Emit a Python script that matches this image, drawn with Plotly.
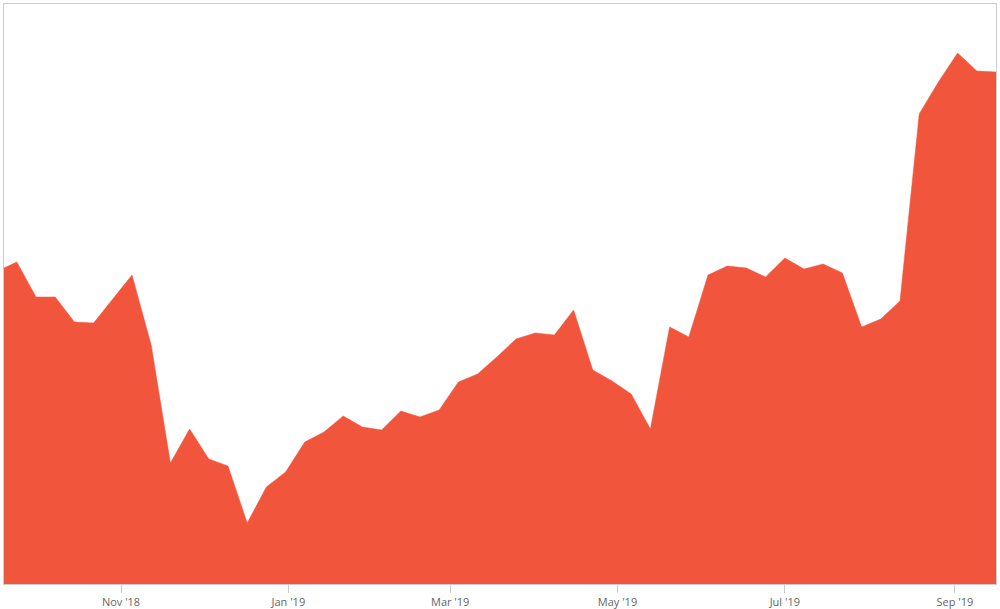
import plotly.graph_objects as go
import pandas as pd

dates = pd.date_range("2018-09-17", "2019-09-16", freq="7D").strftime("%Y-%m-%d").tolist()
values = [313, 322, 287, 287, 262, 261, 285, 309, 239, 121, 155, 125, 118, 61, 97, 112,
          142, 152, 168, 157, 154, 173, 167, 174, 202, 210, 227, 245, 251, 249, 274, 214,
          203, 190, 155, 257, 247, 309, 318, 316, 307, 326, 315, 320, 311, 257, 265, 283,
          470, 502, 531, 513, 512]

color = "#F1553C"

fig = go.Figure(go.Scatter(
    x=dates, y=values, mode="lines", fill="tozeroy",
    fillcolor=color, line=dict(color=color, width=0.5),
    hoverinfo="x+y",
))

fig.update_layout(
    width=1000, height=609,
    margin=dict(l=4, r=4, t=4, b=25, autoexpand=False),
    paper_bgcolor="white", plot_bgcolor="white",
    showlegend=False,
    font=dict(family="Open Sans", size=11, color="#666"),
    xaxis=dict(
        type="date", automargin=False,
        range=["2018-09-19 08:00", "2019-09-16"],
        tick0="2018-11-01", dtick="M2", tickformat="%b '%y",
        ticks="outside", ticklen=8, tickcolor="#ccc", tickwidth=1,
        showgrid=False, zeroline=False,
        showline=True, linecolor="#ccc", linewidth=1, mirror=True,
        tickfont=dict(family="Open Sans", size=11, color="#666"),
    ),
    yaxis=dict(
        range=[0, 580], automargin=False,
        showticklabels=False, showgrid=False, zeroline=False, ticks="",
        showline=True, linecolor="#ccc", linewidth=1, mirror=True,
    ),
)

fig.write_html(
    "out.html",
    config={"displayModeBar": False},
    post_script="document.body.style.margin='0';document.body.style.overflow='hidden';",
)
